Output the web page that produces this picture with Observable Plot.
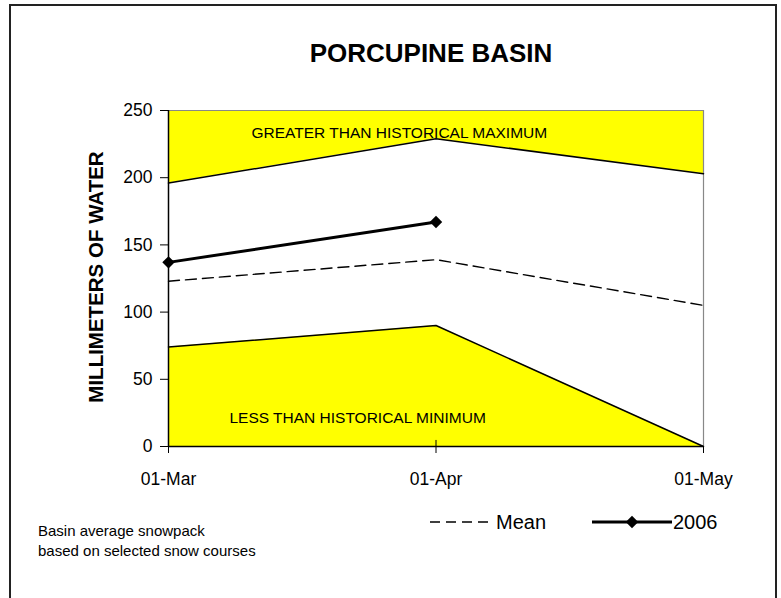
<!DOCTYPE html>
<html>
<head>
<meta charset="utf-8">
<script src="https://cdn.jsdelivr.net/npm/d3@7"></script>
<script src="https://cdn.jsdelivr.net/npm/@observablehq/plot@0.6"></script>
<style>
  html, body { margin: 0; padding: 0; background: #fff; }
  body { font-family: "Liberation Sans", Arial, sans-serif; color: #000; }
  #wrap { position: relative; width: 781px; height: 598px; overflow: hidden; }
  #frame { position: absolute; left: 9px; top: 4px; width: 768px; height: 620px; border: 2px solid #222; box-sizing: border-box; }
  #chart { position: absolute; left: 0; top: 0; }
  .abs { position: absolute; white-space: nowrap; }
  #title { left: 431px; top: 38px; transform: translateX(-50%); font-size: 26px; font-weight: bold; }
  #ylabel { left: 96px; top: 277px; transform: translate(-50%, -50%) rotate(-90deg); font-size: 20.5px; font-weight: bold; }
  #note { left: 38px; top: 521px; font-size: 15px; line-height: 20px; }
  #chart svg g[aria-label*="tick label"], #chart svg g[aria-label*="tick label"] text { font-size: 17.5px !important; }
</style>
</head>
<body>
<div id="wrap">
  <div id="frame"></div>
  <div id="chart"></div>
  <div id="title" class="abs">PORCUPINE BASIN</div>
  <div id="ylabel" class="abs">MILLIMETERS OF WATER</div>
  <div id="note" class="abs">Basin average snowpack<br>based on selected snow courses</div>
  <svg class="abs" style="left:0;top:0" width="781" height="598" id="legend"></svg>
</div>
<script>
// ---- data ----
const months = ["01-Mar", "01-Apr", "01-May"];
const histMax = [196, 229, 203];
const histMin = [74, 90, 0];
const meanVals = [123, 139, 105];
const year2006 = [137, 167];          // only Mar and Apr observed
const yTicks = [0, 50, 100, 150, 200, 250];
const upperLabel = "GREATER THAN HISTORICAL MAXIMUM";
const lowerLabel = "LESS THAN HISTORICAL MINIMUM";
const legendLabels = ["Mean", "2006"];

const yTop = 250;
const rows = months.map((m, i) => ({i, month: m, max: histMax[i], min: histMin[i], mean: meanVals[i], top: yTop}));
const obs = year2006.map((v, i) => ({i, v}));

const chart = Plot.plot({
  width: 781,
  height: 598,
  marginLeft: 168,
  marginRight: 78,
  marginTop: 110,
  marginBottom: 152,
  style: {fontFamily: "Liberation Sans, Arial, sans-serif", fontSize: "17px", color: "#000", background: "transparent", overflow: "visible"},
  x: {type: "linear", domain: [0, 2]},
  y: {type: "linear", domain: [0, yTop]},
  marks: [
    // yellow regions
    Plot.areaY(rows, {x: "i", y1: "max", y2: "top", fill: "#ffff00"}),
    Plot.areaY(rows, {x: "i", y1: 0, y2: "min", fill: "#ffff00"}),
    // plot-area border (gray) top and right
    Plot.ruleY([yTop], {stroke: "#888", strokeWidth: 1.2}),
    Plot.ruleX([2], {stroke: "#888", strokeWidth: 1.2}),
    // historical max / min lines
    Plot.line(rows, {x: "i", y: "max", stroke: "#000", strokeWidth: 1.5}),
    Plot.line(rows, {x: "i", y: "min", stroke: "#000", strokeWidth: 1.5}),
    // mean dashed
    Plot.line(rows, {x: "i", y: "mean", stroke: "#000", strokeWidth: 1.4, strokeDasharray: "11,6"}),
    // 2006
    Plot.line(obs, {x: "i", y: "v", stroke: "#000", strokeWidth: 3}),
    Plot.dot(obs, {x: "i", y: "v", symbol: "diamond2", r: 5.6, fill: "#000", stroke: "none"}),
    // annotations
    Plot.text([upperLabel], {x: () => 0.863, y: () => 233.5, text: d => d, fontSize: 15.5, fill: "#000", letterSpacing: "-0.3px"}),
    Plot.text([lowerLabel], {x: () => 0.707, y: () => 21, text: d => d, fontSize: 15.5, fill: "#000", letterSpacing: "-0.3px"}),
    // axes
    Plot.axisY({ticks: yTicks, tickSize: 8, tickPadding: 8, label: null, fontSize: 17.5, stroke: "#000"}),
    Plot.axisX({ticks: [0, 1, 2], tickFormat: i => months[i], tickSize: 7, tickPadding: 19, label: null, fontSize: 17.5, stroke: "#000"}),
    Plot.ruleX([1], {y1: 0, y2: 4.5, stroke: "#000"}),
    Plot.ruleX([0], {stroke: "#000", strokeWidth: 1.5}),
    Plot.ruleY([0], {stroke: "#000", strokeWidth: 1.5})
  ]
});
document.getElementById("chart").appendChild(chart);

// ---- legend ----
const leg = d3.select("#legend");
const ly = 522;
const ff = "Liberation Sans, Arial, sans-serif";
leg.append("line").attr("x1", 430).attr("x2", 493).attr("y1", ly).attr("y2", ly)
  .attr("stroke", "#000").attr("stroke-width", 1.6).attr("stroke-dasharray", "10,6");
leg.append("text").attr("x", 496).attr("y", ly).attr("dy", "0.35em")
  .attr("font-size", 20).attr("font-family", ff).text(legendLabels[0]);
leg.append("line").attr("x1", 592).attr("x2", 672).attr("y1", ly).attr("y2", ly)
  .attr("stroke", "#000").attr("stroke-width", 3);
leg.append("path").attr("d", d3.symbol(d3.symbolDiamond2, Math.PI * 5.6 * 5.6)()).attr("transform", `translate(632,${ly})`).attr("fill", "#000");
leg.append("text").attr("x", 673).attr("y", ly).attr("dy", "0.35em")
  .attr("font-size", 20).attr("font-family", ff).text(legendLabels[1]);
</script>
</body>
</html>
